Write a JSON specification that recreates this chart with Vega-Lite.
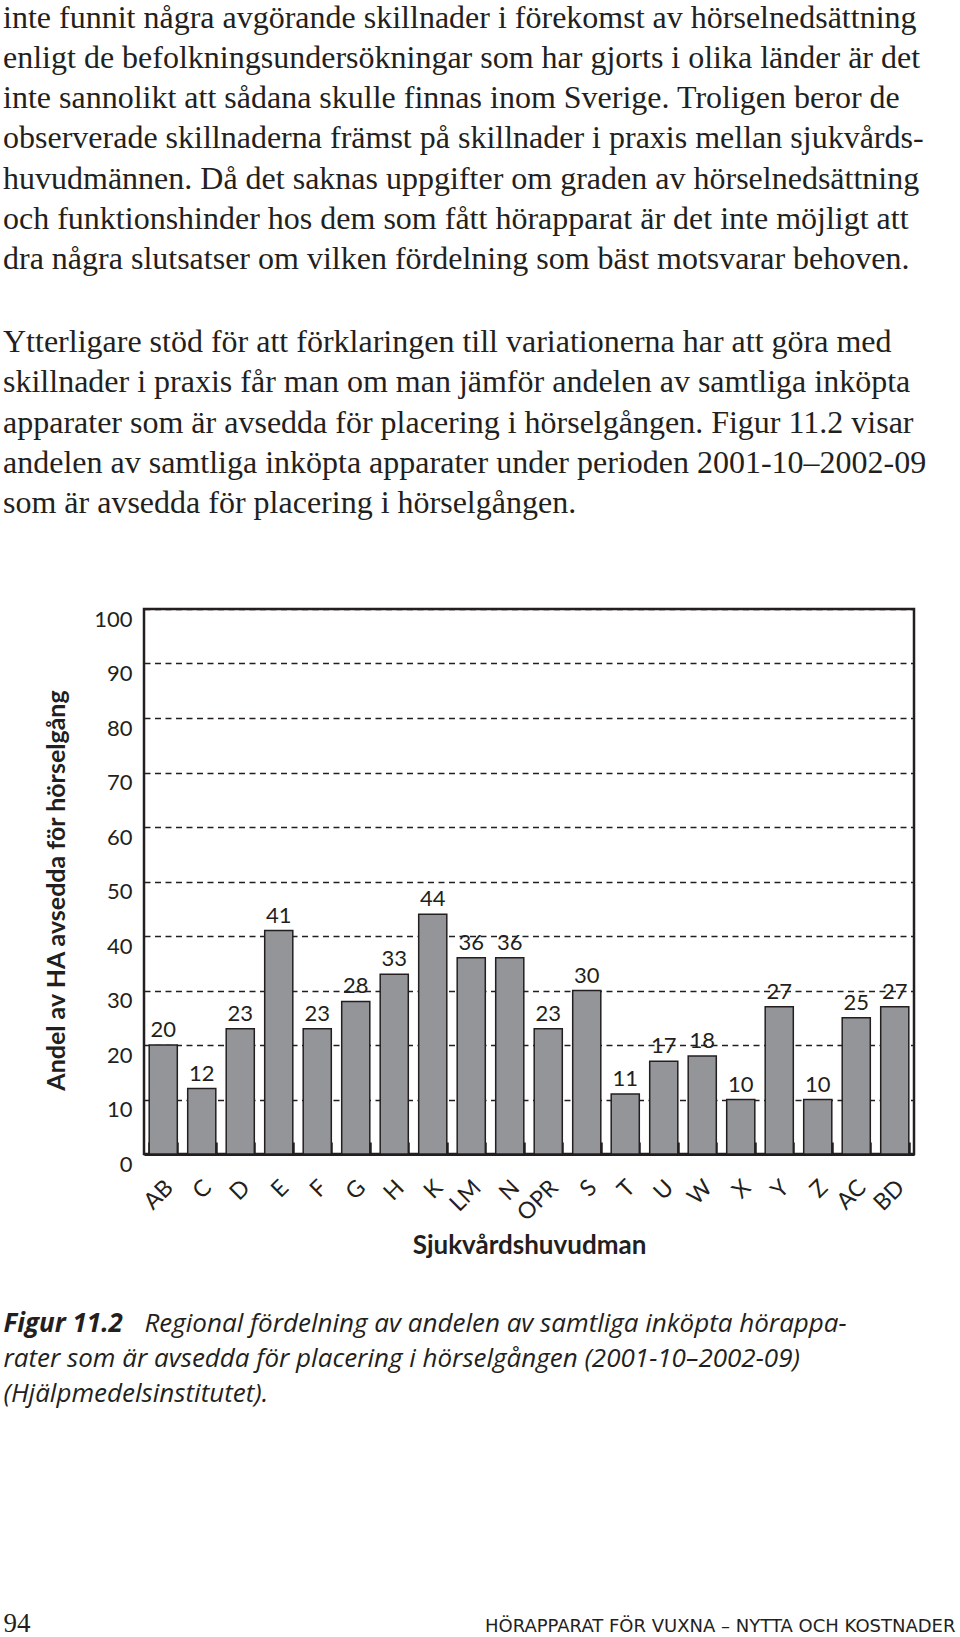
{
  "$schema": "https://vega.github.io/schema/vega-lite/v6.json",
  "width": 770,
  "height": 545,
  "autosize": {"type": "none"},
  "padding": {"left": 144, "top": 609, "right": 46, "bottom": 483},
  "background": "white",
  "title": {
    "text": [
      "inte funnit några avgörande skillnader i förekomst av hörselnedsättning",
      "enligt de befolkningsundersökningar som har gjorts i olika länder är det",
      "inte sannolikt att sådana skulle finnas inom Sverige. Troligen beror de",
      "observerade skillnaderna främst på skillnader i praxis mellan sjukvårds-",
      "huvudmännen. Då det saknas uppgifter om graden av hörselnedsättning",
      "och funktionshinder hos dem som fått hörapparat är det inte möjligt att",
      "dra några slutsatser om vilken fördelning som bäst motsvarar behoven."
    ],
    "subtitle": [
      "Ytterligare stöd för att förklaringen till variationerna har att göra med",
      "skillnader i praxis får man om man jämför andelen av samtliga inköpta",
      "apparater som är avsedda för placering i hörselgången. Figur 11.2 visar",
      "andelen av samtliga inköpta apparater under perioden 2001-10–2002-09",
      "som är avsedda för placering i hörselgången."
    ],
    "anchor": "start",
    "frame": "group",
    "dx": -141,
    "offset": 88,
    "font": "Liberation Serif",
    "fontSize": 32,
    "fontWeight": "normal",
    "lineHeight": 40.25,
    "color": "#231f20",
    "subtitleFont": "Liberation Serif",
    "subtitleFontSize": 32,
    "subtitleFontWeight": "normal",
    "subtitleLineHeight": 40.25,
    "subtitleColor": "#231f20",
    "subtitlePadding": 51
  },
  "config": {
    "font": "Lato",
    "view": {"stroke": "#231f20", "strokeWidth": 2.5}
  },
  "resolve": {"scale": {"x": "independent"}, "axis": {"x": "independent"}},
  "layer": [
    {
      "data": {
        "values": [
          {"region": "AB", "andel": 20},
          {"region": "C", "andel": 12},
          {"region": "D", "andel": 23},
          {"region": "E", "andel": 41},
          {"region": "F", "andel": 23},
          {"region": "G", "andel": 28},
          {"region": "H", "andel": 33},
          {"region": "K", "andel": 44},
          {"region": "LM", "andel": 36},
          {"region": "N", "andel": 36},
          {"region": "OPR", "andel": 23},
          {"region": "S", "andel": 30},
          {"region": "T", "andel": 11},
          {"region": "U", "andel": 17},
          {"region": "W", "andel": 18},
          {"region": "X", "andel": 10},
          {"region": "Y", "andel": 27},
          {"region": "Z", "andel": 10},
          {"region": "AC", "andel": 25},
          {"region": "BD", "andel": 27}
        ]
      },
      "encoding": {
        "x": {
          "field": "region",
          "type": "nominal",
          "sort": null,
          "scale": {"paddingInner": 0.27, "paddingOuter": 0.135},
          "axis": {
            "orient": "bottom",
            "title": "Sjukvårdshuvudman",
            "titleFont": "Lato",
            "titleFontWeight": "bold",
            "titleFontSize": 26,
            "titleColor": "#231f20",
            "titleX": 385,
            "titleY": 99,
            "titleAlign": "center",
            "titleBaseline": "alphabetic",
            "titleAnchor": "middle",
            "labelAngle": -45,
            "labelAlign": "right",
            "labelBaseline": "top",
            "labelFont": "Lato",
            "labelFontSize": 23,
            "labelColor": "#231f20",
            "labelPadding": 34,
            "labelOffset": -2,
            "tickBand": "extent",
            "ticks": true,
            "tickSize": -12,
            "tickWidth": 2.5,
            "tickColor": "#231f20",
            "domain": true,
            "domainWidth": 3,
            "domainColor": "#231f20",
            "grid": false
          }
        },
        "y": {
          "field": "andel",
          "type": "quantitative",
          "scale": {"domain": [0, 100], "nice": false},
          "axis": {
            "values": [0, 10, 20, 30, 40, 50, 60, 70, 80, 90, 100],
            "title": "Andel av HA avsedda för hörselgång",
            "titleFont": "Lato",
            "titleFontWeight": "bold",
            "titleFontSize": 25,
            "titleColor": "#231f20",
            "titleX": -88,
            "titleY": 281,
            "titleAlign": "center",
            "titleBaseline": "middle",
            "titleAngle": -90,
            "labelFont": "Lato",
            "labelFontSize": 22,
            "labelColor": "#231f20",
            "labelBaseline": "top",
            "labelAlign": "right",
            "labelPadding": 12,
            "ticks": false,
            "tickSize": 0,
            "domain": false,
            "grid": true,
            "gridColor": "#231f20",
            "gridWidth": 1.3,
            "gridDash": [6, 4.5],
            "gridOpacity": 1
          }
        }
      },
      "layer": [
        {
          "mark": {"type": "bar", "fill": "#939598", "stroke": "#231f20", "strokeWidth": 1.5}
        },
        {
          "mark": {"type": "text", "baseline": "alphabetic", "dy": -8, "fontSize": 22, "font": "Lato", "color": "#231f20"},
          "encoding": {"text": {"field": "andel", "type": "quantitative"}}
        }
      ]
    },
    {
      "data": {"values": [{"footer": "94"}, {"footer": "HÖRAPPARAT FÖR VUXNA – NYTTA OCH KOSTNADER"}]},
      "mark": {"type": "point", "opacity": 0},
      "encoding": {
        "x": {
          "field": "footer",
          "type": "nominal",
          "sort": null,
          "scale": {"type": "point", "range": [-141, 811], "padding": 0},
          "axis": {
            "orient": "bottom",
            "domain": false,
            "ticks": false,
            "tickSize": 0,
            "grid": false,
            "labelAngle": 0,
            "labelPadding": 477,
            "labelBaseline": "alphabetic",
            "labelAlign": {"condition": {"test": "datum.value === '94'", "value": "left"}, "value": "right"},
            "labelFont": {"condition": {"test": "datum.value === '94'", "value": "Liberation Serif"}, "value": "DejaVu Sans"},
            "labelFontSize": {"condition": {"test": "datum.value === '94'", "value": 27}, "value": 18},
            "labelFontWeight": "normal",
            "labelColor": "#231f20",
            "labelLimit": 1000,
            "labelOverlap": false,
            "title": "Figur 11.2",
            "titleFont": "Open Sans",
            "titleFontStyle": "italic",
            "titleFontWeight": "bold",
            "titleFontSize": 26,
            "titleColor": "#231f20",
            "titleX": -141,
            "titleY": 177,
            "titleAlign": "left",
            "titleBaseline": "alphabetic",
            "titleAngle": 0
          }
        }
      }
    },
    {
      "data": {"values": [{"caption": "rad 1"}]},
      "mark": {"type": "point", "opacity": 0},
      "encoding": {
        "x": {
          "field": "caption",
          "type": "nominal",
          "axis": {
            "orient": "bottom",
            "domain": false,
            "ticks": false,
            "labels": false,
            "grid": false,
            "title": "Regional fördelning av andelen av samtliga inköpta hörappa-",
            "titleFont": "Open Sans",
            "titleFontStyle": "italic",
            "titleFontWeight": "normal",
            "titleFontSize": 26,
            "titleColor": "#231f20",
            "titleX": 0,
            "titleY": 177,
            "titleAlign": "left",
            "titleBaseline": "alphabetic",
            "titleAngle": 0
          }
        }
      }
    },
    {
      "data": {"values": [{"caption": "rad 2"}]},
      "mark": {"type": "point", "opacity": 0},
      "encoding": {
        "x": {
          "field": "caption",
          "type": "nominal",
          "axis": {
            "orient": "bottom",
            "domain": false,
            "ticks": false,
            "labels": false,
            "grid": false,
            "title": ["rater som är avsedda för placering i hörselgången (2001-10–2002-09)", "(Hjälpmedelsinstitutet)."],
            "titleFont": "Open Sans",
            "titleFontStyle": "italic",
            "titleFontWeight": "normal",
            "titleFontSize": 26,
            "titleLineHeight": 35,
            "titleColor": "#231f20",
            "titleX": -141,
            "titleY": 212,
            "titleAlign": "left",
            "titleBaseline": "alphabetic",
            "titleAngle": 0
          }
        }
      }
    }
  ]
}
